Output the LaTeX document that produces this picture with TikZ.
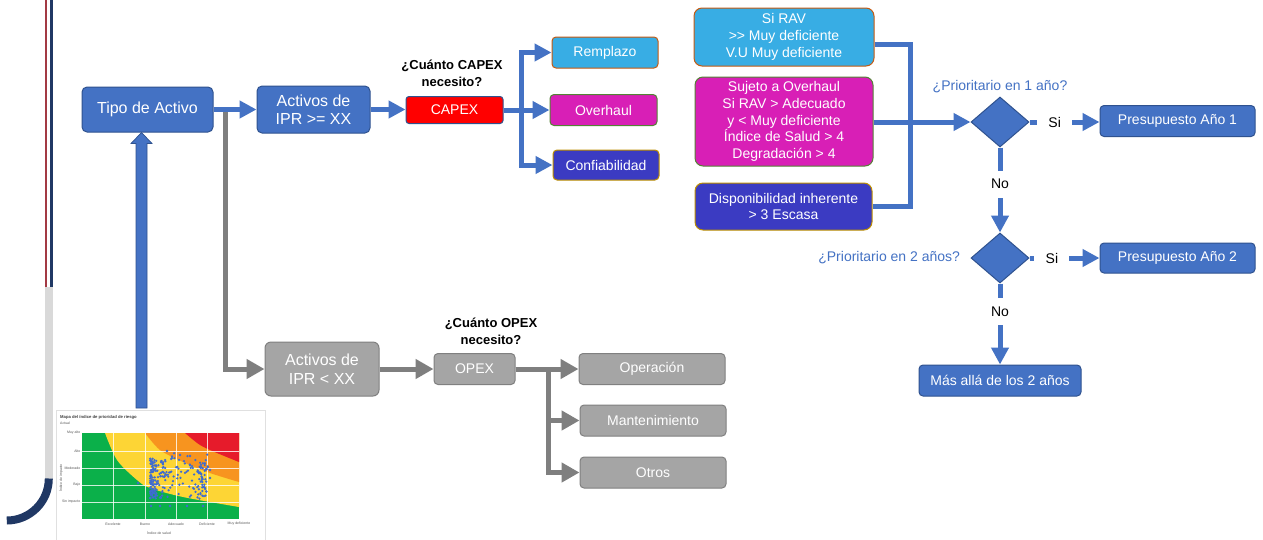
\documentclass[tikz,border=0pt]{standalone}
\usepackage{fontspec}
\setmainfont{Liberation Sans}
\usetikzlibrary{arrows.meta,shapes.geometric,calc}

\definecolor{cBlue}{HTML}{4472C4}
\definecolor{cBlueEdge}{HTML}{2F528F}
\definecolor{cGrayFill}{HTML}{A5A5A5}
\definecolor{cGrayEdge}{HTML}{808080}
\definecolor{cGrayLine}{HTML}{7F7F7F}
\definecolor{cSky}{HTML}{38ADE4}
\definecolor{cSkyEdge}{HTML}{C55A11}
\definecolor{cMag}{HTML}{D81FB6}
\definecolor{cMagEdge}{HTML}{548235}
\definecolor{cInd}{HTML}{3B3BC2}
\definecolor{cIndEdge}{HTML}{BF9000}
\definecolor{cRailRed}{HTML}{A33A44}
\definecolor{cRailNavy}{HTML}{203864}
\definecolor{cRailLight}{HTML}{D9D9D9}
\definecolor{cMapGreen}{HTML}{0BB04A}
\definecolor{cMapYellow}{HTML}{FDD535}
\definecolor{cMapOrange}{HTML}{F7941F}
\definecolor{cMapRed}{HTML}{E61B2B}
\definecolor{cDot}{HTML}{3F6BD0}
\definecolor{cTick}{HTML}{595959}

\newcommand\fsBig{\fontsize{16}{18.5}\selectfont}
\newcommand\fsMid{\fontsize{14}{16.7}\selectfont}
\newcommand\fsTiny{\fontsize{3.5}{4}\selectfont}

\begin{document}
\begin{tikzpicture}[x=1pt,y=-1pt,
  box/.style={rounded corners=4pt, line width=1pt, text=white, align=center,
    inner sep=0pt, font=\fsMid},
  bluebox/.style={box, fill=cBlue, draw=cBlueEdge},
  graybox/.style={box, fill=cGrayFill, draw=cGrayEdge},
  skybox/.style={box, fill=cSky, draw=cSkyEdge},
  magbox/.style={box, fill=cMag, draw=cMagEdge},
  indbox/.style={box, fill=cInd, draw=cIndEdge},
  diam/.style={diamond, fill=cBlue, draw=cBlueEdge, line width=1pt, inner sep=0pt,
    minimum width=58, minimum height=50},
  qlabel/.style={font=\bfseries\fontsize{13}{17}\selectfont, align=center, text=black},
  qblue/.style={font=\fsMid, text=cBlue},
  lbl/.style={fill=white, inner sep=0pt, minimum width=35, minimum height=27,
    font=\fsMid, text=black},
  bline/.style={draw=cBlue, line width=5pt},
  barrow/.style={bline, -{Triangle[length=17pt,width=17pt]}},
  garrow/.style={draw=cGrayLine, line width=5pt, -{Triangle[length=18pt,width=19pt]}},
  tick/.style={font=\fsTiny, text=cTick, inner sep=0.5pt},
  dot/.style={fill=cDot}
]
\useasboundingbox (0,0) rectangle (1263,539);
\fill[white] (0,0) rectangle (1263,539);

% side rails
\draw[cRailRed, line width=2.5pt] (46,-2) -- (46,287);
\draw[cRailNavy, line width=2.5pt] (51.5,-2) -- (51.5,287);
\draw[cRailLight, line width=8.5pt] (48.8,287) -- (48.8,479);
\draw[cRailNavy, line width=8pt] (48.8,478.5) arc[start angle=0, end angle=90, radius=42];

% risk priority map
\node[draw=black!12, fill=white, line width=0.6pt, minimum width=209, minimum height=140,
  inner sep=0pt, anchor=north west] (chart) at (56,410) {};
\node[font=\bfseries\fontsize{4.2}{5}\selectfont, text=black!75, anchor=west, inner sep=0pt]
  at (60,417) {Mapa del índice de prioridad de riesgo};
\node[font=\fsTiny, text=cTick, anchor=west, inner sep=0pt] at (60,423) {Actual};
\fill[cMapGreen] (82,433) rectangle (239,519);
\fill[cMapYellow] plot[smooth] coordinates {(105,433) (117,460) (137,480) (150,488) (183,497) (239,507)}
  -- (239,433) -- cycle;
\fill[cMapOrange] plot[smooth] coordinates {(145,433) (160,450) (183,462) (210,473) (239,482)}
  -- (239,433) -- cycle;
\fill[cMapRed] plot[smooth] coordinates {(185,433) (200,445) (217,453) (239,462)}
  -- (239,433) -- cycle;
\foreach \gx in {113,145,176,207} \draw[white, line width=0.5pt, opacity=0.8] (\gx,433) -- (\gx,519);
\foreach \gy in {451,468,485,502} \draw[white, line width=0.5pt, opacity=0.8] (82,\gy) -- (239,\gy);
\foreach \ty/\tt in {433/Muy alto,451/Alto,468/Moderado,485/Bajo,502/Sin impacto}
  \node[tick, anchor=east] at (81,\ty) {\tt};
\foreach \tx/\tt in {113/Excelente,145/Bueno,176/Adecuado,207/Deficiente,239/Muy deficiente}
  \node[tick] at (\tx,524) {\tt};
\node[tick] at (159,533) {Índice de salud};
\node[tick, rotate=90] at (61,478) {Índice de impacto};
% assets on the map
\pgfmathsetseed{12}
\foreach \i in {1,...,130}{
  \pgfmathsetmacro\px{150+20*rnd*rnd}
  \pgfmathsetmacro\py{457+42*rnd}
  \fill[dot] (\px,\py) circle[radius=1.25];
}
\foreach \i in {1,...,80}{
  \pgfmathsetmacro\px{160+48*rnd}
  \pgfmathsetmacro\py{453+44*rnd}
  \fill[dot] (\px,\py) circle[radius=1.25];
}
\foreach \i in {1,...,35}{
  \pgfmathsetmacro\px{197+9*rnd}
  \pgfmathsetmacro\py{458+42*rnd}
  \fill[dot] (\px,\py) circle[radius=1.25];
}
\foreach \px/\py in {151/506,160/506,170/506,187/506,203/506,138/483,167/451,
  180/455,210/470,210/478,190/456,172/458}
  \fill[dot] (\px,\py) circle[radius=1.35];

% flow: asset type
\node[bluebox, font=\fsBig, rounded corners=5pt, minimum width=131, minimum height=45]
  (tipo) at (147.5,109.5) {Tipo de Activo};
\node[bluebox, font=\fsBig, rounded corners=5pt, minimum width=113, minimum height=47]
  (act1) at (313.5,109.5) {Activos de\\IPR >= XX};
\node[box, fill=red, draw=cBlueEdge, rounded corners=3pt, minimum width=97, minimum height=27]
  (capex) at (454.5,110) {CAPEX};
\node[qlabel] (capq) at (452,73.5) {¿Cuánto CAPEX\\necesito?};
\node[skybox, minimum width=106, minimum height=31] (remp) at (605,52.5) {Remplazo};
\node[magbox, minimum width=107, minimum height=31] (over) at (603.5,110) {Overhaul};
\node[indbox, minimum width=106, minimum height=30] (conf) at (606,165) {Confiabilidad};

\node[graybox, font=\fsBig, rounded corners=6pt, minimum width=114, minimum height=54]
  (act2) at (322,369) {Activos de\\IPR < XX};
\node[graybox, minimum width=81, minimum height=31] (opex) at (474.5,369) {OPEX};
\node[qlabel] (opq) at (491,331) {¿Cuánto OPEX\\necesito?};
\node[graybox, minimum width=146, minimum height=31] (oper) at (652,369) {Operación};
\node[graybox, minimum width=146, minimum height=31] (mant) at (653,420.5) {Mantenimiento};
\node[graybox, minimum width=146, minimum height=31] (otros) at (653,472.5) {Otros};

% criteria
\node[skybox, rounded corners=8pt, minimum width=180, minimum height=58] (b1) at (784,37)
  {Si RAV\\>\kern0pt> Muy deficiente\\V.U Muy deficiente};
\node[magbox, rounded corners=8pt, minimum width=178, minimum height=89] (b2) at (784,121.5)
  {Sujeto a Overhaul\\Si RAV > Adecuado\\y < Muy deficiente\\Índice de Salud > 4\\Degradación > 4};
\node[indbox, rounded corners=8pt, minimum width=177, minimum height=47] (b3) at (783.5,206.5)
  {Disponibilidad inherente\\> 3 Escasa};

% decisions
\node[diam] (d1) at (1000,122) {};
\node[diam] (d2) at (1000,258) {};
\node[qblue] at ([yshift=10pt]d1.north) {¿Prioritario en 1 año?};
\node[qblue, anchor=east] at ([xshift=-7pt]d2.west) {¿Prioritario en 2 años?};
\node[bluebox, minimum width=155, minimum height=31] (p1) at (1177.5,121) {Presupuesto Año 1};
\node[bluebox, minimum width=155, minimum height=30] (p2) at (1177.5,258) {Presupuesto Año 2};
\node[bluebox, minimum width=162, minimum height=31] (mas) at (1000,380.5) {Más allá de los 2 años};

% connectors
\draw[garrow] ([xshift=11.5pt]tipo.east) |- (act2.west);
\draw[barrow] (tipo.east) -- (tipo.east -| act1.west);
\draw[barrow] (act1.east) -- (act1.east -| capex.west);
\draw[barrow] (capex.east) -- ++(18,0) |- (remp.west);
\draw[barrow] (capex.east) -- ++(18,0) |- (conf.west);
\draw[barrow] (capex.east) -- (capex.east -| over.west);

\draw[garrow] (act2.east) -- (act2.east -| opex.west);
\draw[garrow] (opex.east) -- (opex.east -| oper.west);
\draw[garrow] (opex.east) -- ++(33,0) |- (mant.west);
\draw[garrow] (opex.east) -- ++(33,0) |- (otros.west);

\draw[bline] ([yshift=-7pt]b1.east) -- ++(36,0) |- (b3.east);
\draw[barrow] (b2.east |- d1.west) -- (d1.west);

\draw[barrow] (d1.east) -- (d1.east -| p1.west) node[lbl, pos=0.36] {Si};
\draw[barrow] (d1.south) -- (d2.north) node[lbl, pos=0.43] {No};
\draw[barrow] (d2.east) -- (d2.east -| p2.west) node[lbl, pos=0.32] {Si};
\draw[barrow] (d2.south) -- (mas.north) node[lbl, pos=0.35] {No};

% block arrow from the map up to the asset type
\coordinate (uptip) at ([xshift=-6pt]tipo.south);
\coordinate (upfoot) at (uptip |- chart.north);
\filldraw[fill=cBlue, draw=cBlueEdge, line width=0.7pt, line join=miter]
  (uptip) -- ($(uptip)+(10.5,11)$) -- ($(uptip)+(5.5,11)$) -- ($(upfoot)+(5.5,-2)$)
  -- ($(upfoot)+(-5.5,-2)$) -- ($(uptip)+(-5.5,11)$) -- ($(uptip)+(-10.5,11)$) -- cycle;
\end{tikzpicture}
\end{document}
